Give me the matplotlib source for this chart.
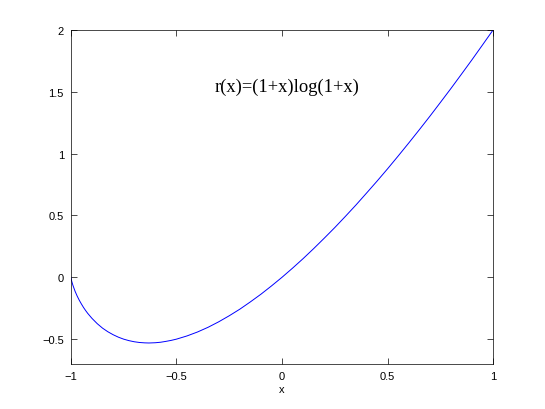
import matplotlib
matplotlib.use('Agg')
import matplotlib.pyplot as plt

# points
x = [-1.0, -0.998, -0.995, -0.99, -0.98, -0.97, -0.96, -0.95, -0.94, -0.93,
     -0.92, -0.9, -0.875, -0.85, -0.825, -0.8, -0.775, -0.75, -0.725, -0.7,
     -0.675, -0.65, -0.63, -0.6, -0.575, -0.55, -0.525, -0.5, -0.45, -0.4,
     -0.35, -0.3, -0.25, -0.2, -0.15, -0.1, -0.05, 0.0, 0.05, 0.1,
     0.15, 0.2, 0.25, 0.3, 0.35, 0.4, 0.45, 0.5, 0.55, 0.6,
     0.65, 0.7, 0.75, 0.8, 0.85, 0.9, 0.95, 1.0]
r = [0.0, -0.018, -0.038, -0.066, -0.113, -0.152, -0.186, -0.216, -0.244, -0.269,
     -0.292, -0.332, -0.375, -0.411, -0.440, -0.464, -0.484, -0.5, -0.512, -0.521,
     -0.527, -0.530, -0.531, -0.529, -0.525, -0.518, -0.510, -0.5, -0.474, -0.442,
     -0.404, -0.360, -0.311, -0.258, -0.199, -0.137, -0.070, 0.0, 0.074, 0.151,
     0.232, 0.316, 0.402, 0.492, 0.584, 0.680, 0.777, 0.877, 0.980, 1.085,
     1.192, 1.301, 1.413, 1.526, 1.642, 1.759, 1.879, 2.0]

xticks = [-1, -0.5, 0, 0.5, 1]
xticklabels = ['\u22121', '\u22120.5', '0', '0.5', '1']
yticks = [-0.5, 0, 0.5, 1, 1.5, 2]
yticklabels = ['\u22120.5', '0', '0.5', '1', '1.5', '2']

plt.rcParams['font.family'] = ['Liberation Sans', 'DejaVu Sans']

fig = plt.figure(figsize=(5.45, 4.1), dpi=100)
ax = fig.add_axes([0.13, 0.11, 0.775, 0.815])

ax.plot(x, r, color='#0000ff', linewidth=0.7)

ax.set_xlim(-1, 1)
ax.set_ylim(-0.7, 2)
ax.set_xticks(xticks)
ax.set_xticklabels(xticklabels)
ax.set_yticks(yticks)
ax.set_yticklabels(yticklabels)
ax.tick_params(direction='in', top=True, right=True, labelsize=8,
               length=4, width=0.5, pad=5)
for s in ax.spines.values():
    s.set_linewidth(0.5)
ax.set_xlabel('x', fontsize=8, labelpad=2)

ax.text(-0.32, 1.54, 'r(x)=(1+x)log(1+x)', family='Liberation Serif',
        fontsize=13.3, va='center', ha='left')

fig.savefig('out.png', dpi=100)
